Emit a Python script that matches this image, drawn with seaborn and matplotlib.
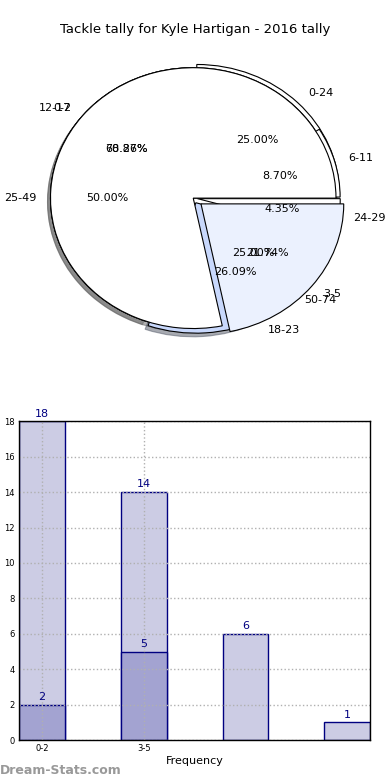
import numpy as np
import pandas as pd
import seaborn as sns
import matplotlib
matplotlib.use("Agg")
import matplotlib.pyplot as plt

# pie data (three overlaid pies)
range_labels = ["0-24", "25-49", "50-74"]
range_values = [1, 2, 1]
freq_labels = ["0-2", "3-5"]
freq_values = [18, 5]
week_labels = ["6-11", "12-17", "18-23", "24-29"]
week_values = [2, 14, 6, 1]

# bar data
bar_cats = ["0-2", "3-5", "6-8", "9-11"]
bar_light = [18, 14, 6, 1]
bar_dark_cats = ["0-2", "3-5"]
bar_dark = [2, 5]

TITLE = "Tackle tally for Kyle Hartigan - 2016 tally"
NAVY = "#000080"

sns.set_style("white")
plt.rcParams['font.family'] = ['DejaVu Sans']
plt.rcParams['text.color'] = 'black'
plt.rcParams['axes.labelcolor'] = 'black'
plt.rcParams['xtick.color'] = 'black'
plt.rcParams['ytick.color'] = 'black'

fig = plt.figure(figsize=(3.9, 7.8), dpi=100)

# ---- pie part
ax1 = fig.add_axes([0.038, 0.537, 0.915, 0.418])
wp = {'edgecolor': 'black', 'linewidth': 0.8}
tp = {'fontsize': 8}
shad = {'ox': -0.015, 'oy': -0.02, 'shade': 0.6}

ax1.pie(range_values, labels=range_labels, autopct='%.2f%%', explode=[0.035, 0, 0],
        colors=['white', 'white', 'white'], shadow=shad, wedgeprops=wp, textprops=tp,
        labeldistance=1.1, pctdistance=0.6)
ax1.pie(week_values, labels=week_labels, autopct='%.2f%%', explode=[0.03, 0, 0.04, 0.03],
        colors=['white', 'white', '#c8d8fc', 'white'], shadow=shad, wedgeprops=wp,
        textprops=tp, labeldistance=1.1, pctdistance=0.6)
ax1.pie(freq_values, labels=freq_labels, autopct='%.2f%%', explode=[0, 0.07],
        colors=['white', '#ebf1fe'], shadow=False, wedgeprops=wp, textprops=tp,
        labeldistance=1.1, pctdistance=0.6)
ax1.set_aspect('auto')
ax1.set_xlim(-1.25, 1.25)
ax1.set_ylim(-1.25, 1.25)
ax1.axis('off')

fig.text(0.5, 0.962, TITLE, ha='center', va='center', fontsize=9.5)

# ---- bar part
ax2 = fig.add_axes([0.049, 0.051, 0.9, 0.409])
df_light = pd.DataFrame({'cat': bar_cats, 'val': bar_light})
df_dark = pd.DataFrame({'cat': bar_dark_cats, 'val': bar_dark})

sns.barplot(data=df_light, x='cat', y='val', order=bar_cats, color='#ccccE4',
            saturation=1, width=0.45, edgecolor=NAVY, linewidth=1, ax=ax2)
sns.barplot(data=df_dark, x='cat', y='val', order=bar_cats, color='#a3a3d1',
            saturation=1, width=0.45, edgecolor=NAVY, linewidth=1, ax=ax2)

for i, v in enumerate(bar_light):
    ax2.text(i, v + 0.15, str(v), ha='center', va='bottom', color=NAVY, fontsize=8)
for i, v in enumerate(bar_dark):
    ax2.text(i, v + 0.15, str(v), ha='center', va='bottom', color=NAVY, fontsize=8)

ax2.set_xlim(-0.225, 3.225)
ax2.set_ylim(0, 18)
ax2.set_yticks(np.arange(0, 19, 2))
ax2.set_xticks([0, 1])
ax2.set_xticklabels(["0-2", "3-5"])
ax2.tick_params(axis='both', labelsize=6, direction='in', length=3, pad=3)
ax2.set_xlabel("Frequency", fontsize=8, labelpad=2)
ax2.set_ylabel("Stat Interval", fontsize=8, labelpad=6)
ax2.set_axisbelow('line')
ax2.grid(True, linestyle=':', color='#b0b0b0', linewidth=1)
for s in ax2.spines.values():
    s.set_color('black')
    s.set_linewidth(1)
    s.set_zorder(3)

fig.text(0.0, 0.012, "Dream-Stats.com", ha='left', va='center', fontsize=9,
         color='#999999', fontweight='bold')

fig.savefig("out.png", dpi=100)
